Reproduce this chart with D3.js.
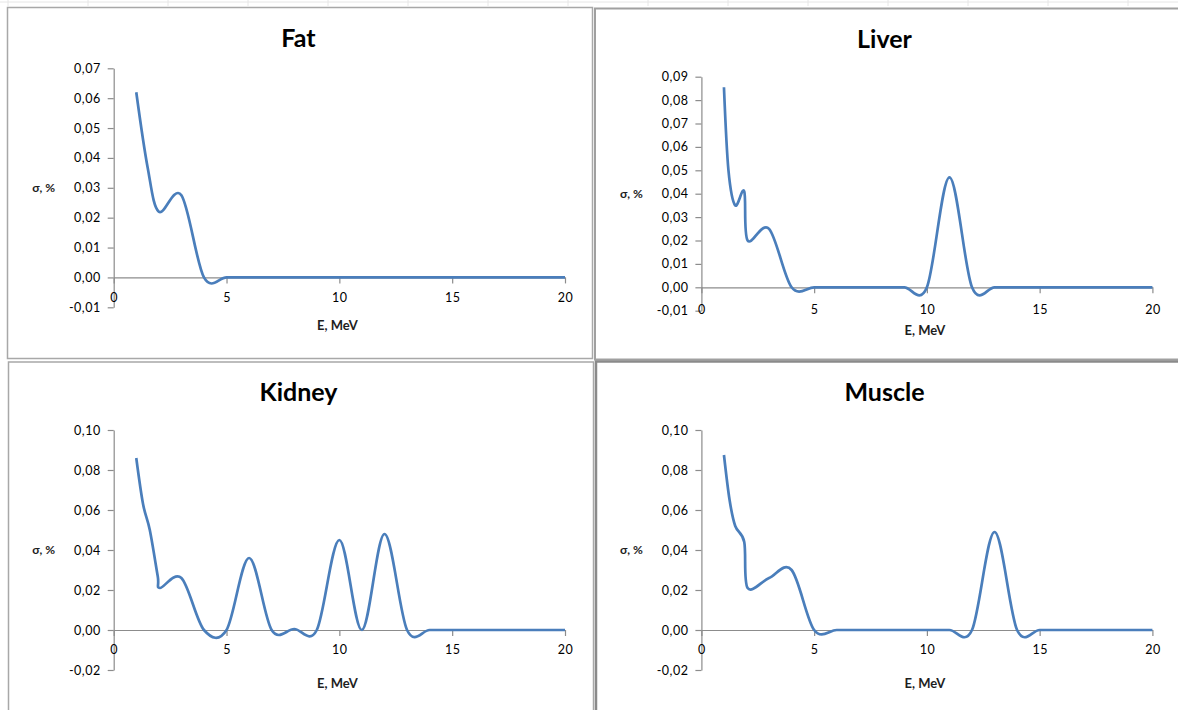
<!DOCTYPE html>
<html>
<head>
<meta charset="utf-8">
<script src="https://cdn.jsdelivr.net/npm/d3@7"></script>
<style>
  html, body { margin: 0; padding: 0; background: #fff; }
  svg { display: block; }
  .tick text { font-family: Lato, "Open Sans", sans-serif; font-size: 12.5px; letter-spacing: 0.5px; fill: #000; }
  .axis path, .axis line { stroke: #8c8c8c; stroke-width: 1.2; }
</style>
</head>
<body>
<script>
// energies (MeV) and sigma (%)
const fatE = [1, 1.5, 2, 3, 4, 5, 6, 7, 8, 9, 10, 11, 12, 13, 14, 15, 16, 17, 18, 19, 20];
const fatSigma = [0.062, 0.037, 0.022, 0.0275, 0, 0, 0, 0, 0, 0, 0, 0, 0, 0, 0, 0, 0, 0, 0, 0, 0];

const liverE = [1, 1.2, 1.5, 1.9, 2.05, 3, 4, 5, 6, 7, 8, 9, 10, 11, 12, 13, 14, 15, 16, 17, 18, 19, 20];
const liverSigma = [0.0855, 0.05, 0.035, 0.041, 0.020, 0.025, 0, 0, 0, 0, 0, 0, 0, 0.047, 0, 0, 0, 0, 0, 0, 0, 0, 0];

const kidneyE = [1, 1.3, 1.6, 1.95, 2.05, 3, 4, 5, 6, 7, 8, 9, 10, 11, 12, 13, 14, 15, 16, 17, 18, 19, 20];
const kidneySigma = [0.086, 0.063, 0.05, 0.027, 0.021, 0.026, 0, 0, 0.036, 0, 0.0005, 0, 0.045, 0, 0.048, 0, 0, 0, 0, 0, 0, 0, 0];

const muscleE = [1, 1.25, 1.5, 1.9, 2.05, 3, 4, 5, 6, 7, 8, 9, 10, 11, 12, 13, 14, 15, 16, 17, 18, 19, 20];
const muscleSigma = [0.0875, 0.065, 0.052, 0.044, 0.021, 0.026, 0.030, 0, 0, 0, 0, 0, 0, 0, 0, 0.049, 0, 0, 0, 0, 0, 0, 0];

// tick labels
const xTicks = [0, 5, 10, 15, 20];
const fatYTicks = [-0.01, 0, 0.01, 0.02, 0.03, 0.04, 0.05, 0.06, 0.07];
const liverYTicks = [-0.01, 0, 0.01, 0.02, 0.03, 0.04, 0.05, 0.06, 0.07, 0.08, 0.09];
const bottomYTicks = [-0.02, 0, 0.02, 0.04, 0.06, 0.08, 0.10];

const titles = ["Fat", "Liver", "Kidney", "Muscle"];
const xTitle = "E, MeV";
const yTitle = "σ, %";

const svg = d3.select("body").append("svg")
  .attr("width", 1178)
  .attr("height", 710);

// faint spreadsheet cell lines peeking at the top
svg.append("line")
  .attr("x1", 0).attr("x2", 1178).attr("y1", 2).attr("y2", 2)
  .attr("stroke", "#e6e6e6");
d3.range(8, 1178, 80).forEach(cx => {
  svg.append("line")
    .attr("x1", cx).attr("x2", cx).attr("y1", 0).attr("y2", 6)
    .attr("stroke", "#e6e6e6");
});

const locale = d3.formatLocale({ decimal: ",", thousands: " ", grouping: [3], currency: ["", ""], minus: "-" });
const fmt = locale.format(".2f");

// layout of the four chart boxes
const panels = [
  { E: fatE, s: fatSigma, yTicks: fatYTicks, box: [7.5, 7.5, 585, 351], stroke: "#a8a8a8", sw: 1.5,
    xr: [113.7, 565], yr: [307.3, 68.3], titleBase: 46.5, xLabY: 298, xTitY: 325 },
  { E: liverE, s: liverSigma, yTicks: liverYTicks, box: [595, 8.5, 590, 351], stroke: "#a0a0a0", sw: 2,
    xr: [701.4, 1152.4], yr: [310.7, 76.7], titleBase: 48.3, xLabY: 309.5, xTitY: 330 },
  { E: kidneyE, s: kidneySigma, yTicks: bottomYTicks, box: [8.5, 362, 585, 360], stroke: "#a8a8a8", sw: 1.5,
    xr: [113.7, 565], yr: [670, 430], titleBase: 401, xLabY: 650, xTitY: 683 },
  { E: muscleE, s: muscleSigma, yTicks: bottomYTicks, box: [596, 361.5, 590, 360], stroke: "#8a8a8a", sw: 2.5,
    xr: [701.4, 1152.4], yr: [670, 430], titleBase: 401, xLabY: 650, xTitY: 683 }
];

panels.forEach((p, i) => {
  const g = svg.append("g");

  g.append("rect")
    .attr("x", p.box[0]).attr("y", p.box[1])
    .attr("width", p.box[2]).attr("height", p.box[3])
    .attr("fill", "none")
    .attr("stroke", p.stroke)
    .attr("stroke-width", p.sw);

  const x = d3.scaleLinear().domain([0, 20]).range(p.xr);
  const y = d3.scaleLinear()
    .domain([p.yTicks[0], p.yTicks[p.yTicks.length - 1]])
    .range(p.yr);

  // y axis
  g.append("g")
    .attr("class", "axis")
    .attr("transform", `translate(${p.xr[0]},0)`)
    .call(d3.axisLeft(y).tickValues(p.yTicks).tickFormat(fmt).tickSize(6).tickSizeOuter(0).tickPadding(7));

  // x axis sits on zero, labels below the plot
  const xAxis = g.append("g")
    .attr("class", "axis")
    .attr("transform", `translate(0,${y(0)})`)
    .call(d3.axisBottom(x).tickValues(xTicks).tickFormat(d3.format("d")).tickSize(6).tickSizeOuter(0));
  xAxis.selectAll(".tick text")
    .attr("y", p.xLabY - y(0))
    .attr("dy", "0.35em");

  // curve (Excel-style smoothing)
  const pts = p.E.map((e, k) => ({ e: e, v: p.s[k] }));
  g.append("path")
    .datum(pts)
    .attr("fill", "none")
    .attr("stroke", "#4a7ebb")
    .attr("stroke-width", 2.7)
    .attr("stroke-linejoin", "round")
    .attr("d", d3.line()
      .x(d => x(d.e))
      .y(d => y(d.v))
      .curve(d3.curveCardinal.tension(0)));

  const midX = (p.xr[0] + p.xr[1]) / 2;

  g.append("text")
    .attr("x", i % 2 === 0 ? 298.5 : 884.5)
    .attr("y", p.titleBase)
    .attr("text-anchor", "middle")
    .style("font-family", "Lato, sans-serif")
    .style("font-weight", "bold")
    .style("font-size", "25px")
    .text(titles[i]);

  g.append("text")
    .attr("x", p.xr[0] - 70)
    .attr("y", (p.yr[0] + p.yr[1]) / 2)
    .attr("dy", "0.35em")
    .attr("text-anchor", "middle")
    .style("font-family", "Lato, sans-serif")
    .style("font-weight", "bold")
    .style("font-size", "12px")
    .style("fill", "#1e1e1e")
    .text(yTitle);

  g.append("text")
    .attr("x", midX - 2)
    .attr("y", p.xTitY)
    .attr("dy", "0.35em")
    .attr("text-anchor", "middle")
    .style("font-family", "Lato, sans-serif")
    .style("font-weight", "bold")
    .style("font-size", "13px")
    .style("fill", "#1e1e1e")
    .text(xTitle);
});
</script>
</body>
</html>
